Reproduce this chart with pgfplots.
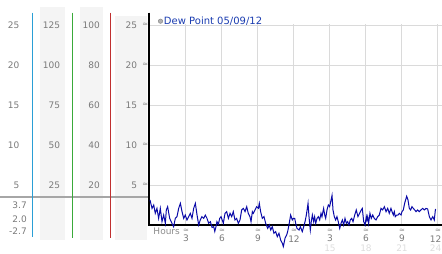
\documentclass[border=0pt]{standalone}
\usepackage{pgfplots}
\pgfplotsset{compat=1.18}
\usepackage{fontspec}
\setmainfont{DejaVu Sans}
\definecolor{lab}{HTML}{7A7A7A}
\definecolor{band}{HTML}{F4F4F4}
\definecolor{gridc}{HTML}{DADADA}
\definecolor{cyanl}{HTML}{2A9FD6}
\definecolor{greenl}{HTML}{3AAA3A}
\definecolor{redl}{HTML}{C03030}
\definecolor{dew}{HTML}{0A0AA8}
\definecolor{legblue}{HTML}{1A3CB0}
\definecolor{faint}{HTML}{DDDDDD}
\definecolor{markc}{HTML}{8C8C8C}
\begin{document}
\begin{tikzpicture}[font=\fontsize{9}{10}\selectfont]
\begin{axis}[
  scale only axis, width=293pt, height=201.2pt,
  xmin=-0.08333, xmax=24.3333, ymin=0, ymax=25.15,
  clip=false,
  axis line style={draw=none},
  xtick={3,6,...,24}, xticklabels={3,6,9,12,3,6,9,},
  ytick={5,10,15,20,25}, yticklabels={},
  major tick length=0pt,
  grid=major, major grid style={gridc, line width=1pt},
  tick label style={lab, font=\fontsize{9}{10}\selectfont, inner sep=0pt},
  xticklabel style={anchor=center, yshift=-13.7pt},
]
\coordinate (BL) at (axis cs:-12.5,-3.5);
\coordinate (TR) at (axis cs:24.3333,28.125);
% column bands
\fill[band] (axis cs:-9.1667,-1.875) rectangle (axis cs:-7.0833,27.25);
\fill[band] (axis cs:-5.8333,-1.875) rectangle (axis cs:-3.9167,27.25);
\fill[band] (axis cs:-2.9167,-1.875) rectangle (axis cs:-0.25,26.125);
\draw[color=black!35, line width=2pt] (axis cs:-12.5,3.5) -- (axis cs:-0.0833,3.5);
\draw[cyanl, line width=1pt] (axis cs:-9.75,26.54) -- (axis cs:-9.75,-1.5);
\draw[greenl, line width=1pt] (axis cs:-6.44,26.54) -- (axis cs:-6.44,-1.625);
\draw[redl, line width=1pt] (axis cs:-3.25,26.54) -- (axis cs:-3.25,-1.625);
\draw[black, line width=1.4pt] (axis cs:-0.0833,26.54) -- (axis cs:-0.0833,0) -- (axis cs:24.3333,0);
% column 1
\node[lab, anchor=east, inner sep=0pt] at (axis cs:-10.875,25) {25};
\node[lab, anchor=east, inner sep=0pt] at (axis cs:-10.875,20) {20};
\node[lab, anchor=east, inner sep=0pt] at (axis cs:-10.875,15) {15};
\node[lab, anchor=east, inner sep=0pt] at (axis cs:-10.875,10) {10};
\node[lab, anchor=east, inner sep=0pt] at (axis cs:-10.875,5) {5};
\node[lab, anchor=east, inner sep=0pt] at (axis cs:-10.25,2.5) {3.7};
\node[lab, anchor=east, inner sep=0pt] at (axis cs:-10.25,0.75) {2.0};
\node[lab, anchor=east, inner sep=0pt] at (axis cs:-10.25,-0.75) {-2.7};
% column 2
\node[lab, anchor=east, inner sep=0pt] at (axis cs:-7.475,25) {125};
\node[lab, anchor=east, inner sep=0pt] at (axis cs:-7.475,20) {100};
\node[lab, anchor=east, inner sep=0pt] at (axis cs:-7.475,15) {75};
\node[lab, anchor=east, inner sep=0pt] at (axis cs:-7.475,10) {50};
\node[lab, anchor=east, inner sep=0pt] at (axis cs:-7.475,5) {25};
% column 3
\node[lab, anchor=east, inner sep=0pt] at (axis cs:-4.1667,25) {100};
\node[lab, anchor=east, inner sep=0pt] at (axis cs:-4.1667,20) {80};
\node[lab, anchor=east, inner sep=0pt] at (axis cs:-4.1667,15) {60};
\node[lab, anchor=east, inner sep=0pt] at (axis cs:-4.1667,10) {40};
\node[lab, anchor=east, inner sep=0pt] at (axis cs:-4.1667,5) {20};
% column 4
\node[lab, anchor=east, inner sep=0pt] at (axis cs:-1.058,25) {25};
\node[lab, anchor=east, inner sep=0pt] at (axis cs:-1.058,20) {20};
\node[lab, anchor=east, inner sep=0pt] at (axis cs:-1.058,15) {15};
\node[lab, anchor=east, inner sep=0pt] at (axis cs:-1.058,10) {10};
\node[lab, anchor=east, inner sep=0pt] at (axis cs:-1.058,5) {5};
% tick glyphs
\node[markc, inner sep=0pt, font=\fontsize{7}{7}\selectfont] at (axis cs:-0.39,25) {≈};
\node[markc, inner sep=0pt, font=\fontsize{7}{7}\selectfont] at (axis cs:-0.39,20) {≈};
\node[markc, inner sep=0pt, font=\fontsize{7}{7}\selectfont] at (axis cs:-0.39,15) {≈};
\node[markc, inner sep=0pt, font=\fontsize{7}{7}\selectfont] at (axis cs:-0.39,10) {≈};
\node[markc, inner sep=0pt, font=\fontsize{7}{7}\selectfont] at (axis cs:-0.39,5) {≈};
\node[markc, inner sep=0pt, font=\fontsize{7}{7}\selectfont] at (axis cs:3,-0.75) {≈};
\node[markc, inner sep=0pt, font=\fontsize{7}{7}\selectfont] at (axis cs:6,-0.75) {≈};
\node[markc, inner sep=0pt, font=\fontsize{7}{7}\selectfont] at (axis cs:9,-0.75) {≈};
\node[markc, inner sep=0pt, font=\fontsize{7}{7}\selectfont] at (axis cs:12,-0.75) {≈};
\node[markc, inner sep=0pt, font=\fontsize{7}{7}\selectfont] at (axis cs:15,-0.75) {≈};
\node[markc, inner sep=0pt, font=\fontsize{7}{7}\selectfont] at (axis cs:18,-0.75) {≈};
\node[markc, inner sep=0pt, font=\fontsize{7}{7}\selectfont] at (axis cs:21,-0.75) {≈};
\node[markc, inner sep=0pt, font=\fontsize{7}{7}\selectfont] at (axis cs:24,-0.75) {≈};
% last hour label kept inside the edge
\node[lab, anchor=east, inner sep=0pt] at (axis cs:24.3,-1.7125) {12};
% second row of hour labels
\node[faint, inner sep=0pt] at (axis cs:15,-2.9) {15};
\node[faint, inner sep=0pt] at (axis cs:18,-2.9) {18};
\node[faint, inner sep=0pt] at (axis cs:21,-2.9) {21};
\node[faint, anchor=east, inner sep=0pt] at (axis cs:24.3,-2.9) {24};
\node[color=black!45, anchor=west, inner sep=0pt] at (axis cs:0.275,-0.84) {Hours};
% legend
\draw[fill=black!30, draw=black!45, line width=0.5pt] (axis cs:0.875,25.475) circle[radius=2.2pt];
\node[legblue, anchor=west, inner sep=0pt, font=\fontsize{10}{11}\selectfont] at (axis cs:1.15,25.475) {Dew Point 05/09/12};
\addplot[dew, line width=1pt] table[x=h, y=v] {
h v
0.00 3.13
0.17 2.08
0.31 2.50
0.44 1.46
0.58 2.08
0.72 0.83
0.86 2.08
1.00 0.42
1.14 1.25
1.28 0.21
1.36 1.88
1.47 2.29
1.64 0.83
1.83 0.21
1.97 -0.21
2.11 0.83
2.25 1.04
2.39 2.08
2.53 2.71
2.67 1.67
2.81 0.83
2.94 1.25
3.08 0.63
3.22 1.04
3.36 1.46
3.50 0.83
3.64 2.08
3.78 2.71
3.92 1.25
4.06 0.00
4.19 0.63
4.33 1.04
4.47 0.83
4.61 1.25
4.75 0.83
4.89 0.21
5.03 0.42
5.17 -0.30
5.31 -0.21
5.40 -0.80
5.50 -0.20
5.58 0.42
5.70 0.10
5.81 0.83
5.92 1.04
5.97 0.83
6.11 0.21
6.25 1.46
6.39 1.67
6.53 0.83
6.67 1.46
6.81 1.04
6.94 1.67
7.08 0.63
7.22 0.83
7.36 0.21
7.50 0.63
7.64 1.88
7.78 2.08
7.92 1.67
8.06 2.29
8.19 1.46
8.33 1.04
8.42 0.42
8.53 1.67
8.61 1.46
8.75 1.88
8.89 2.29
9.03 2.08
9.11 2.71
9.22 1.67
9.36 0.83
9.50 1.04
9.64 0.21
9.81 -0.42
9.94 0.00
10.06 -0.63
10.19 -0.21
10.33 -1.04
10.47 -0.83
10.61 -1.46
10.75 -1.04
10.89 -1.88
11.03 -2.29
11.11 -2.70
11.25 -1.67
11.39 -1.25
11.47 -0.83
11.58 0.00
11.72 1.25
11.86 0.63
11.95 0.83
12.06 0.83
12.14 0.21
12.25 -0.42
12.42 -0.63
12.53 -0.21
12.69 -0.83
12.81 -0.21
12.92 0.42
13.03 1.25
13.17 2.71
13.25 1.04
13.36 -0.63
13.44 0.42
13.53 1.25
13.64 0.42
13.72 1.04
13.81 0.21
13.92 0.83
14.03 1.04
14.14 0.63
14.25 1.46
14.33 1.04
14.47 2.08
14.56 1.25
14.64 0.83
14.75 1.88
14.86 2.50
14.97 2.29
15.06 2.92
15.17 3.70
15.25 1.88
15.36 1.04
15.47 0.63
15.58 1.04
15.69 0.42
15.81 -0.42
15.92 0.21
16.03 0.63
16.14 0.00
16.25 0.83
16.36 0.21
16.47 0.42
16.58 0.00
16.69 0.63
16.81 0.83
16.92 0.42
17.06 1.25
17.19 1.88
17.33 1.04
17.47 1.46
17.61 1.88
17.69 2.08
17.81 0.42
17.92 0.00
18.03 1.04
18.08 0.60
18.14 1.04
18.22 0.21
18.33 1.46
18.44 0.83
18.56 1.25
18.69 0.83
18.83 0.63
18.97 1.04
19.11 1.25
19.25 2.08
19.39 1.88
19.53 2.29
19.67 1.67
19.81 2.08
19.94 1.46
20.08 2.08
20.17 1.67
20.28 1.25
20.36 1.67
20.44 1.04
20.56 1.25
20.67 1.25
20.78 1.46
20.92 1.25
21.00 1.67
21.11 1.88
21.22 2.71
21.39 3.60
21.50 3.13
21.61 2.08
21.72 1.88
21.83 2.29
21.94 2.08
22.06 1.88
22.17 1.67
22.31 1.88
22.44 1.67
22.58 1.88
22.72 2.08
22.86 1.88
23.00 2.08
23.14 2.00
23.28 1.04
23.42 0.63
23.56 1.04
23.69 0.63
23.78 1.88
23.80 2.00
};
\end{axis}
\pgfresetboundingbox
\path[use as bounding box] (BL) rectangle (TR);
\end{tikzpicture}
\end{document}
